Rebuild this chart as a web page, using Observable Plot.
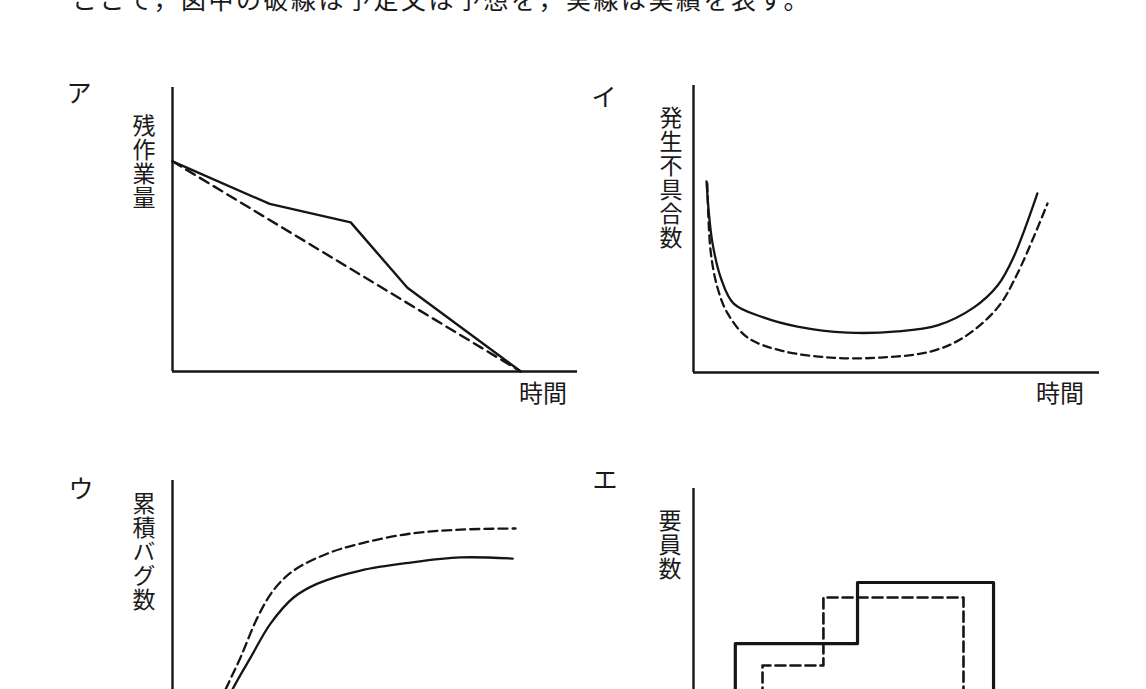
<!DOCTYPE html>
<html lang="ja">
<head>
<meta charset="utf-8">
<script src="https://cdn.jsdelivr.net/npm/d3@7"></script>
<script src="https://cdn.jsdelivr.net/npm/@observablehq/plot@0.6"></script>
<style>
html, body { margin:0; padding:0; overflow:hidden; background:#fff; }
#page { position:relative; width:1146px; height:689px; overflow:hidden; font-family:"Noto Sans CJK JP", sans-serif; color:#1a1a1a; }
.note { position:absolute; left:72px; top:-14px; font-size:25px; letter-spacing:2.5px; line-height:1; white-space:nowrap; }
.tag { position:absolute; font-size:25px; line-height:1; width:30px; text-align:center; }
.ylab { position:absolute; writing-mode:vertical-rl; font-size:23px; line-height:1; letter-spacing:1px; white-space:nowrap; }
.xlab { position:absolute; font-size:24px; line-height:1; white-space:nowrap; }
</style>
</head>
<body>
<div id="page"></div>
<script>
// ---- text ----
const noteText = "ここで，図中の破線は予定又は予想を，実線は実績を表す。";
const panelTags = ["ア", "イ", "ウ", "エ"];
const yTitles = ["残作業量", "発生不具合数", "累積バグ数", "要員数"];
const xTitle = "時間";

// ---- ア: remaining work (time 0-100, amount 0-100) ----
const aTime   = [0, 24, 44, 58, 86];
const aActual = [74, 59, 52.5, 29.5, 0];
const aPlanTime = [0, 86];
const aPlan     = [74, 0];

// ---- イ: defects occurring ----
const iTimeActual = [3.2, 3.8, 4.7, 6.7, 9.9, 17.2, 25.6, 37.9, 50.2, 60.1, 69.0, 74.9, 78.8, 84.7];
const iActual     = [66.6, 55.4, 44.9, 33.1, 24.0, 19.2, 16.0, 13.9, 14.3, 16.4, 22.6, 30.3, 40.1, 62.4];
const iTimePlan   = [3.4, 4.2, 5.9, 8.4, 13.3, 21.4, 33.7, 46.1, 58.4, 66.5, 74.9, 79.8, 87.2];
const iPlan       = [65.9, 42.5, 29.6, 20.6, 12.2, 7.7, 5.2, 5.2, 7.3, 12.2, 22.6, 34.5, 58.9];

// ---- ウ: cumulative bugs ----
const uTimePlan   = [6, 13.1, 16.8, 21.0, 24.9, 29.9, 38.3, 46.4, 58.8, 71.1, 84.7];
const uPlan       = [4, 26.4, 37.7, 51.8, 61.3, 68.3, 74.3, 77.8, 81.3, 82.7, 83.1];
const uTimeActual = [7.5, 14.8, 19.3, 24.2, 29.9, 35.8, 46.4, 58.8, 71.1, 84.0];
const uActual     = [4, 26.4, 37.7, 49.6, 58.8, 63.7, 68.3, 71.1, 72.9, 72.5];

// ---- エ: staffing (period boundaries and staff level per period) ----
const eActualBounds = [10.3, 40.4, 73.9];
const eActualStaff  = [45.4, 66.9];
const ePlanBounds   = [17.0, 32.0, 66.5];
const ePlanStaff    = [37.7, 61.6];

// ---- helpers ----
const zip = (xs, ys) => xs.map((x, i) => ({x, y: ys[i]}));
const steps = (b, s) => [
  {x: b[0], y: 0}, {x: b[0], y: s[0]}, {x: b[1], y: s[1]}, {x: b[2], y: s[1]}, {x: b[2], y: 0}
];
const INK = "#151515";
const page = document.getElementById("page");

function axesMarks(w) {
  return [
    Plot.ruleX([0], {y1: 0, y2: 100, stroke: INK, strokeWidth: w}),
    Plot.ruleY([0], {x1: 0, x2: 100, stroke: INK, strokeWidth: w})
  ];
}

function addPanel(box, marks) {
  const svg = Plot.plot({
    width: box.width, height: box.height,
    x: {domain: [0, 100], range: box.xRange, axis: null},
    y: {domain: [0, 100], range: box.yRange, axis: null},
    style: {background: "transparent", overflow: "visible"},
    marks
  });
  svg.style.position = "absolute";
  svg.style.left = box.left + "px";
  svg.style.top = box.top + "px";
  page.appendChild(svg);
}

function addText(cls, text, css) {
  const d = document.createElement("div");
  d.className = cls;
  d.textContent = text;
  Object.assign(d.style, css);
  page.appendChild(d);
}

// note line (cut at top in reference)
addText("note", noteText, {});

// ア
addPanel({left: 0, top: 40, width: 600, height: 400, xRange: [172, 577], yRange: [331, 47]}, [
  ...axesMarks(2.4),
  Plot.line(zip(aPlanTime, aPlan), {x: "x", y: "y", stroke: INK, strokeWidth: 2.4, strokeDasharray: "10,6"}),
  Plot.line(zip(aTime, aActual), {x: "x", y: "y", stroke: INK, strokeWidth: 2.4})
]);
// イ
addPanel({left: 573, top: 40, width: 573, height: 400, xRange: [120, 526], yRange: [332, 45]}, [
  ...axesMarks(2.4),
  Plot.line(zip(iTimePlan, iPlan), {x: "x", y: "y", stroke: INK, strokeWidth: 2.3, strokeDasharray: "8,5", curve: "catmull-rom"}),
  Plot.line(zip(iTimeActual, iActual), {x: "x", y: "y", stroke: INK, strokeWidth: 2.3, curve: "catmull-rom"})
]);
// ウ
addPanel({left: 0, top: 440, width: 600, height: 360, xRange: [172, 577], yRange: [324, 40]}, [
  ...axesMarks(2.4),
  Plot.line(zip(uTimePlan, uPlan), {x: "x", y: "y", stroke: INK, strokeWidth: 2.3, strokeDasharray: "9,5", curve: "catmull-rom"}),
  Plot.line(zip(uTimeActual, uActual), {x: "x", y: "y", stroke: INK, strokeWidth: 2.3, curve: "catmull-rom"})
]);
// エ
addPanel({left: 573, top: 440, width: 573, height: 360, xRange: [120, 526], yRange: [332, 48]}, [
  ...axesMarks(2.4),
  Plot.line(steps(ePlanBounds, ePlanStaff), {x: "x", y: "y", stroke: INK, strokeWidth: 2.6, strokeDasharray: "10,5", curve: "step-after"}),
  Plot.line(steps(eActualBounds, eActualStaff), {x: "x", y: "y", stroke: INK, strokeWidth: 3.2, curve: "step-after"})
]);

// labels
const tagPos = [[79, 93], [604, 97], [81, 489], [605, 480]];
panelTags.forEach((t, i) => addText("tag", t, {left: (tagPos[i][0] - 15) + "px", top: (tagPos[i][1] - 14) + "px"}));
const yLabPos = [[132, 114], [659, 106], [132, 492], [658, 509]];
yTitles.forEach((t, i) => addText("ylab", t, {left: yLabPos[i][0] + "px", top: yLabPos[i][1] + "px"}));
const xLabPos = [[543, 393], [1060, 393]];
xLabPos.forEach(p => addText("xlab", xTitle, {left: (p[0] - 24) + "px", top: (p[1] - 13) + "px"}));
</script>
</body>
</html>
